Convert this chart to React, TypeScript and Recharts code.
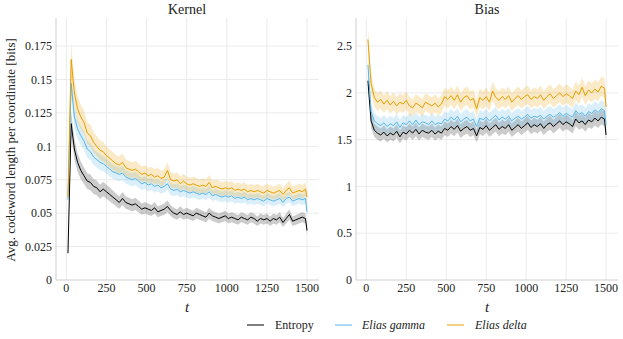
import React from "react";
import { ComposedChart, Line, Area, XAxis, YAxis, CartesianGrid } from "recharts";

const T = [10, 30, 50, 70, 90, 110, 130, 150, 170, 190, 210, 230, 250, 270, 290, 310, 330, 350, 370, 390, 410, 430, 450, 470, 490, 510, 530, 550, 570, 590, 610, 630, 650, 670, 690, 710, 730, 750, 770, 790, 810, 830, 850, 870, 890, 910, 930, 950, 970, 990, 1010, 1030, 1050, 1070, 1090, 1110, 1130, 1150, 1170, 1190, 1210, 1230, 1250, 1270, 1290, 1310, 1330, 1350, 1370, 1390, 1410, 1430, 1450, 1470, 1490, 1500];

const K_ENTROPY = [0.02, 0.117, 0.098, 0.088, 0.082, 0.078, 0.074, 0.073, 0.07, 0.069, 0.066, 0.068, 0.066, 0.064, 0.062, 0.06, 0.058, 0.061, 0.058, 0.057, 0.056, 0.057, 0.055, 0.053, 0.054, 0.053, 0.052, 0.054, 0.051, 0.052, 0.053, 0.055, 0.052, 0.05, 0.049, 0.051, 0.049, 0.05, 0.049, 0.048, 0.05, 0.049, 0.048, 0.047, 0.05, 0.048, 0.047, 0.046, 0.047, 0.048, 0.046, 0.047, 0.046, 0.045, 0.047, 0.046, 0.045, 0.047, 0.046, 0.044, 0.046, 0.045, 0.046, 0.044, 0.046, 0.045, 0.047, 0.043, 0.046, 0.049, 0.044, 0.045, 0.046, 0.047, 0.046, 0.037];
const K_GAMMA = [0.06, 0.147, 0.122, 0.113, 0.108, 0.104, 0.098, 0.096, 0.092, 0.09, 0.088, 0.087, 0.085, 0.083, 0.081, 0.08, 0.079, 0.08, 0.077, 0.076, 0.075, 0.076, 0.074, 0.072, 0.073, 0.071, 0.072, 0.07, 0.071, 0.069, 0.07, 0.072, 0.068, 0.067, 0.068, 0.066, 0.067, 0.066, 0.065, 0.066, 0.065, 0.064, 0.065, 0.064, 0.066, 0.063, 0.064, 0.063, 0.062, 0.063, 0.062, 0.063, 0.061, 0.062, 0.061, 0.062, 0.06, 0.061, 0.06, 0.061, 0.06, 0.059, 0.061, 0.06, 0.059, 0.06, 0.061, 0.058, 0.061, 0.062, 0.059, 0.06, 0.061, 0.06, 0.061, 0.051];
const K_DELTA = [0.062, 0.165, 0.14, 0.128, 0.122, 0.118, 0.11, 0.108, 0.103, 0.1, 0.097, 0.096, 0.093, 0.091, 0.089, 0.087, 0.086, 0.088, 0.084, 0.083, 0.082, 0.083, 0.081, 0.079, 0.08, 0.078, 0.079, 0.077, 0.078, 0.076, 0.077, 0.082, 0.075, 0.074, 0.075, 0.072, 0.074, 0.072, 0.071, 0.072, 0.071, 0.07, 0.071, 0.07, 0.073, 0.069, 0.07, 0.069, 0.068, 0.069, 0.068, 0.069, 0.067, 0.068, 0.067, 0.068, 0.066, 0.067, 0.066, 0.067, 0.066, 0.065, 0.067, 0.066, 0.065, 0.066, 0.067, 0.064, 0.067, 0.069, 0.065, 0.066, 0.067, 0.066, 0.068, 0.062];

const B_ENTROPY = [2.13, 1.7, 1.6, 1.57, 1.55, 1.58, 1.54, 1.57, 1.55, 1.59, 1.53, 1.58, 1.56, 1.6, 1.57, 1.61, 1.56, 1.6, 1.58, 1.57, 1.6, 1.56, 1.59, 1.57, 1.62, 1.6, 1.64, 1.61, 1.65, 1.59, 1.62, 1.64, 1.6, 1.62, 1.54, 1.63, 1.61, 1.65, 1.6, 1.63, 1.66, 1.61, 1.64, 1.62, 1.66, 1.6, 1.63, 1.66, 1.62, 1.65, 1.68, 1.63, 1.66, 1.64, 1.67, 1.62, 1.66, 1.68, 1.64, 1.67, 1.7, 1.66, 1.69, 1.67, 1.64, 1.72, 1.68, 1.7, 1.66, 1.71, 1.69, 1.73, 1.7, 1.74, 1.72, 1.55];
const B_GAMMA = [2.3, 1.8, 1.7, 1.67, 1.65, 1.68, 1.64, 1.67, 1.65, 1.69, 1.63, 1.68, 1.66, 1.7, 1.66, 1.71, 1.66, 1.69, 1.68, 1.66, 1.7, 1.66, 1.68, 1.67, 1.72, 1.7, 1.74, 1.71, 1.75, 1.69, 1.72, 1.74, 1.7, 1.72, 1.64, 1.73, 1.71, 1.74, 1.7, 1.73, 1.76, 1.71, 1.74, 1.72, 1.75, 1.7, 1.73, 1.75, 1.72, 1.74, 1.77, 1.73, 1.75, 1.74, 1.76, 1.72, 1.75, 1.77, 1.74, 1.76, 1.79, 1.75, 1.78, 1.76, 1.74, 1.81, 1.77, 1.79, 1.75, 1.8, 1.78, 1.82, 1.79, 1.83, 1.81, 1.66];
const B_DELTA = [2.57, 2.1, 1.95, 1.9, 1.93, 1.88, 1.92, 1.87, 1.91, 1.86, 1.9, 1.88, 1.92, 1.86, 1.84, 1.89, 1.87, 1.84, 1.9, 1.88, 1.86, 1.89, 1.85, 1.88, 1.96, 1.93, 1.97, 1.92, 1.98, 1.9, 1.95, 1.97, 1.92, 1.94, 1.83, 1.95, 1.92, 1.96, 1.9, 2.02, 1.95, 1.92, 1.96, 1.93, 1.97, 1.9, 1.94, 1.97, 1.93, 1.96, 1.98, 1.93, 1.96, 1.94, 1.98, 1.92, 1.96, 1.99, 1.94, 1.97, 2.0, 1.96, 1.99, 1.97, 1.94, 2.02, 1.98, 2.06, 1.97, 2.03, 2.0, 2.04, 2.01, 2.07, 2.05, 1.85];

// relative half-width of the confidence bands (entropy, gamma, delta)
const K_BAND = [0.08, 0.065, 0.075];
const B_BAND = [0.045, 0.05, 0.05];

const X_TICKS = [0, 250, 500, 750, 1000, 1250, 1500];
const K_TICKS = [0, 0.025, 0.05, 0.075, 0.1, 0.125, 0.15, 0.175];
const B_TICKS = [0, 0.5, 1, 1.5, 2, 2.5];

const BLACK = "#000000";
const BLUE = "#56B4E9";
const ORANGE = "#E69F00";
const FONT = "Liberation Serif, DejaVu Serif, serif";

function rows(e: number[], g: number[], d: number[], band: number[]) {
  return T.map((t, i) => ({
    t,
    e: e[i],
    g: g[i],
    d: d[i],
    eb: [e[i] * (1 - band[0]), e[i] * (1 + band[0])],
    gb: [g[i] * (1 - band[1]), g[i] * (1 + band[1])],
    db: [d[i] * (1 - band[2]), d[i] * (1 + band[2])],
  }));
}

const kernelData = rows(K_ENTROPY, K_GAMMA, K_DELTA, K_BAND);
const biasData = rows(B_ENTROPY, B_GAMMA, B_DELTA, B_BAND);

const tickStyle = { fontFamily: FONT, fontSize: 12, fill: "#222", style: { fontFamily: FONT } };

function Panel(props: { data: any[]; ticks: number[]; top: number; width: number; rightMargin: number }) {
  const { data, ticks, top, width, rightMargin } = props;
  return (
    <ComposedChart
      width={width}
      height={339}
      data={data}
      margin={{ top: 18, right: rightMargin, bottom: 0, left: 0 }}
      style={{ fontFamily: FONT }}
    >
      <CartesianGrid stroke="#ebebeb" strokeWidth={1} horizontalValues={ticks.filter((v) => v > 0)} verticalValues={X_TICKS} />
      <XAxis
        type="number"
        dataKey="t"
        domain={[-64.5, 1574.5]}
        ticks={X_TICKS}
        tickLine={false}
        tickSize={0}
        axisLine={{ stroke: "#cfcfcf" }}
        tick={tickStyle}
        tickMargin={3}
        allowDataOverflow
        height={59}
      />
      <YAxis
        type="number"
        domain={[0, top]}
        ticks={ticks}
        tickLine={false}
        tickSize={0}
        axisLine={{ stroke: "#cfcfcf" }}
        tick={tickStyle}
        tickMargin={4}
        width={56}
        allowDataOverflow
      />
      <Area dataKey="eb" stroke="none" fill={BLACK} fillOpacity={0.2} isAnimationActive={false} dot={false} activeDot={false} />
      <Area dataKey="gb" stroke="none" fill={BLUE} fillOpacity={0.22} isAnimationActive={false} dot={false} activeDot={false} />
      <Area dataKey="db" stroke="none" fill={ORANGE} fillOpacity={0.22} isAnimationActive={false} dot={false} activeDot={false} />
      <Line dataKey="e" stroke={BLACK} strokeWidth={1} dot={false} isAnimationActive={false} />
      <Line dataKey="g" stroke={BLUE} strokeWidth={1} dot={false} isAnimationActive={false} />
      <Line dataKey="d" stroke={ORANGE} strokeWidth={1} dot={false} isAnimationActive={false} />
    </ComposedChart>
  );
}

const textStyle: React.CSSProperties = { position: "absolute", fontFamily: FONT, color: "#222", whiteSpace: "nowrap" };

export default function App() {
  return (
    <div style={{ position: "absolute", left: 0, top: 0, width: 623, height: 339, background: "#fff", overflow: "hidden", fontFamily: FONT }}>
      <div style={{ position: "absolute", left: 0, top: 0 }}>
        <Panel data={kernelData} ticks={K_TICKS} top={0.196} width={320} rightMargin={1} />
      </div>
      <div style={{ position: "absolute", left: 300, top: 0 }}>
        <Panel data={biasData} ticks={B_TICKS} top={2.8} width={323} rightMargin={5} />
      </div>
      <div style={{ ...textStyle, left: 187, top: 10, fontSize: 14, transform: "translate(-50%, -50%)" }}>Kernel</div>
      <div style={{ ...textStyle, left: 487, top: 10, fontSize: 14, transform: "translate(-50%, -50%)" }}>Bias</div>
      <div style={{ ...textStyle, left: 187, top: 307, fontSize: 15, fontStyle: "italic", transform: "translate(-50%, -50%)" }}>t</div>
      <div style={{ ...textStyle, left: 487, top: 307, fontSize: 15, fontStyle: "italic", transform: "translate(-50%, -50%)" }}>t</div>
      <div style={{ ...textStyle, left: 11, top: 150, fontSize: 13, transform: "translate(-50%, -50%) rotate(-90deg)" }}>
        Avg. codeword length per coordinate [bits]
      </div>
      <svg style={{ position: "absolute", left: 0, top: 0, fontFamily: FONT }} width={623} height={339}>
        <line x1={247} x2={264} y1={325} y2={325} stroke={BLACK} strokeWidth={1} />
        <line x1={335} x2={352} y1={325} y2={325} stroke={BLUE} strokeWidth={1} />
        <line x1={447} x2={464} y1={325} y2={325} stroke={ORANGE} strokeWidth={1} />
        <text x={275} y={329} style={{ fontFamily: FONT, fontSize: 12 }} fill="#222">Entropy</text>
        <text x={362} y={329} style={{ fontFamily: FONT, fontSize: 12, fontStyle: "italic" }} fill="#222">Elias gamma</text>
        <text x={475} y={329} style={{ fontFamily: FONT, fontSize: 12, fontStyle: "italic" }} fill="#222">Elias delta</text>
      </svg>
    </div>
  );
}
